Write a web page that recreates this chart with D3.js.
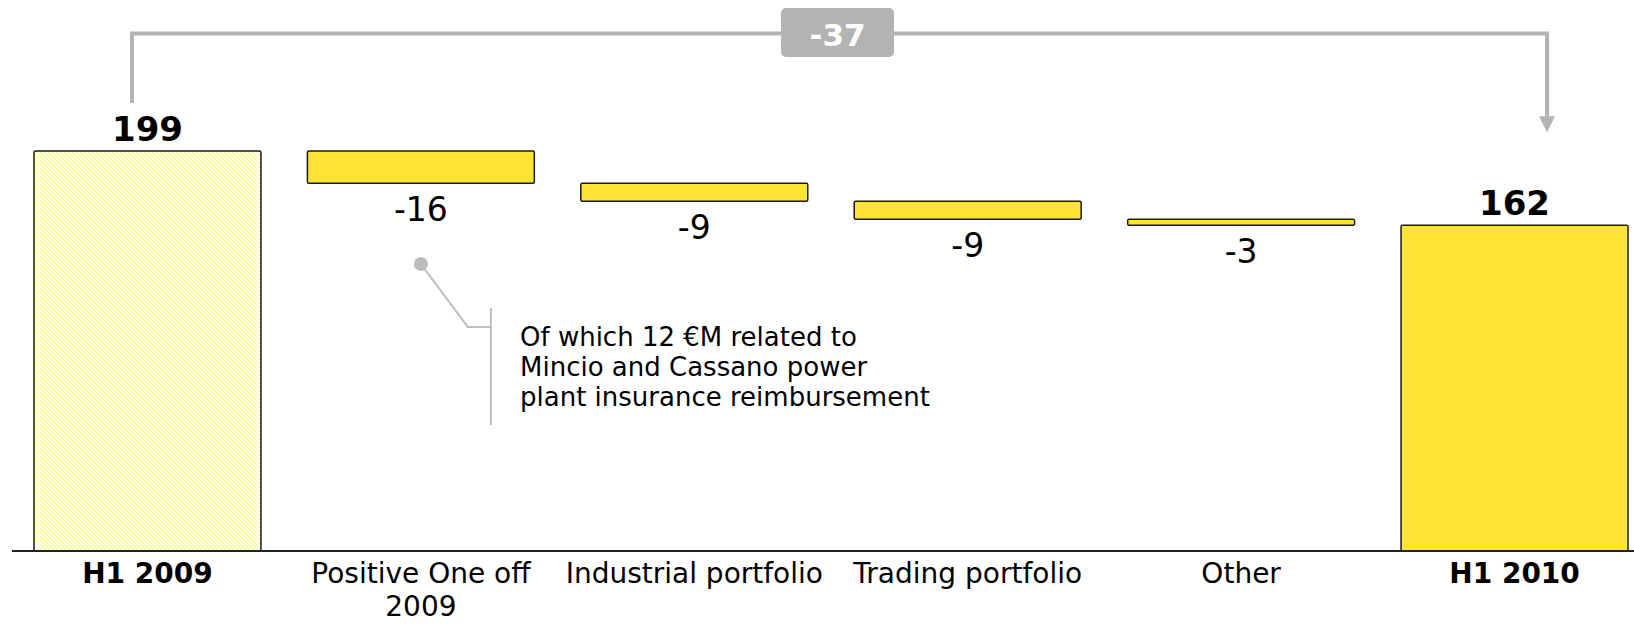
<!DOCTYPE html>
<html>
<head>
<meta charset="utf-8">
<script src="https://cdn.jsdelivr.net/npm/d3@7"></script>
<style>
  body { margin: 0; background: #fff; }
  svg { display: block; font-family: "DejaVu Sans", Verdana, sans-serif; }
</style>
</head>
<body>
<div id="chart"></div>
<script>
// Data
var categories = ["H1 2009", "Positive One off 2009", "Industrial portfolio", "Trading portfolio", "Other", "H1 2010"];
var labelLines = [["H1 2009"], ["Positive One off", "2009"], ["Industrial portfolio"], ["Trading portfolio"], ["Other"], ["H1 2010"]];
var values = [199, -16, -9, -9, -3, 162];
var kinds = ["total", "delta", "delta", "delta", "delta", "total"];
var bridgeValue = -37;
var noteLines = ["Of which 12 €M related to", "Mincio and Cassano power", "plant insurance reimbursement"];

var width = 1634, height = 624;
var yellow = "#ffe433", grey = "#b3b3b3";

var svg = d3.select("#chart").append("svg")
    .attr("width", width)
    .attr("height", height);

// hatch pattern for the first total
var defs = svg.append("defs");
var pat = defs.append("pattern")
    .attr("id", "hatch")
    .attr("patternUnits", "userSpaceOnUse")
    .attr("width", 4).attr("height", 4);
pat.append("rect").attr("width", 4).attr("height", 4).attr("fill", "#fff");
pat.append("path")
    .attr("d", "M-1,-1 L5,5 M-1,3 L1,5 M3,-1 L5,1")
    .attr("stroke", yellow)
    .attr("stroke-opacity", 0.85)
    .attr("stroke-width", 0.7);

// Build waterfall steps
var running = 0;
var steps = categories.map(function(c, i) {
    var v = values[i], start, end;
    if (kinds[i] === "total") { start = 0; end = v; running = v; }
    else { start = running; end = running + v; running = end; }
    return {cat: c, value: v, kind: kinds[i], start: start, end: end, lines: labelLines[i]};
});

// Scales
var x = d3.scaleBand()
    .domain(categories)
    .range([34, 1628])
    .paddingInner(0.17)
    .paddingOuter(0);

var y = d3.scaleLinear()
    .domain([0, 199])
    .range([551, 151]);

// Bars
svg.append("g")
    .selectAll("rect")
    .data(steps)
    .enter().append("rect")
    .attr("x", d => x(d.cat))
    .attr("y", d => y(Math.max(d.start, d.end)))
    .attr("width", x.bandwidth())
    .attr("height", d => Math.abs(y(d.start) - y(d.end)))
    .attr("rx", 1.5)
    .attr("fill", (d, i) => i === 0 ? "url(#hatch)" : yellow)
    .attr("stroke", "#1a1a1a")
    .attr("stroke-width", 1.5);

// Value labels
svg.append("g")
    .selectAll("text")
    .data(steps)
    .enter().append("text")
    .attr("x", d => x(d.cat) + x.bandwidth() / 2)
    .attr("y", d => d.kind === "total" ? y(d.end) - 10 : y(Math.min(d.start, d.end)) + 38)
    .attr("text-anchor", "middle")
    .style("font-size", d => d.kind === "total" ? "34px" : "33px")
    .style("font-weight", d => d.kind === "total" ? "bold" : "normal")
    .attr("fill", "#000")
    .text(d => d.value);

// X axis (labels only), baseline drawn separately
var xAxis = svg.append("g")
    .attr("transform", "translate(0," + y(0) + ")")
    .call(d3.axisBottom(x).tickSize(0).tickSizeOuter(0));
xAxis.select(".domain").remove();
xAxis.selectAll("text")
    .attr("y", 32)
    .attr("dy", 0)
    .attr("fill", "#000")
    .style("font-family", "\"DejaVu Sans\", Verdana, sans-serif")
    .style("font-size", "28px")
    .style("font-weight", (d, i) => kinds[i] === "total" ? "bold" : "normal")
    .each(function(d, i) {
        var t = d3.select(this).text(null);
        labelLines[i].forEach(function(line, j) {
            t.append("tspan").attr("x", 0).attr("dy", j === 0 ? 0 : 33).text(line);
        });
    });

svg.append("line")
    .attr("x1", 12).attr("x2", width)
    .attr("y1", y(0)).attr("y2", y(0))
    .attr("stroke", "#222")
    .attr("stroke-width", 2);

// Bridge bracket with -37
var bx1 = x(categories[0]) + 98,
    bx2 = x(categories[5]) + 146,
    by = 33.5;
svg.append("path")
    .attr("d", "M" + bx1 + "," + (y(199) - 48) + " V" + by + " H" + bx2 + " V" + (y(162) - 108))
    .attr("fill", "none")
    .attr("stroke", grey)
    .attr("stroke-width", 4);
svg.append("path")
    .attr("d", "M" + (bx2 - 8) + "," + (y(162) - 109) + " L" + (bx2 + 8) + "," + (y(162) - 109) + " L" + bx2 + "," + (y(162) - 93) + "Z")
    .attr("fill", grey);

var bmid = (bx1 + bx2) / 2 - 2;
svg.append("rect")
    .attr("x", bmid - 56.5).attr("y", 8)
    .attr("width", 113).attr("height", 49)
    .attr("rx", 5)
    .attr("fill", grey);
svg.append("text")
    .attr("x", bmid).attr("y", 46)
    .attr("text-anchor", "middle")
    .attr("fill", "#fff")
    .style("font-size", "31px")
    .style("font-weight", "bold")
    .text(bridgeValue);

// Callout note on the one-off
var cx = x(categories[1]) + x.bandwidth() / 2;
var note = svg.append("g");
note.append("circle")
    .attr("cx", cx).attr("cy", 264).attr("r", 7)
    .attr("fill", "#bdbdbd");
note.append("polyline")
    .attr("points", cx + ",264 " + (cx + 47) + ",327 " + (cx + 70) + ",327")
    .attr("fill", "none")
    .attr("stroke", "#bdbdbd")
    .attr("stroke-width", 2);
note.append("line")
    .attr("x1", cx + 70).attr("x2", cx + 70)
    .attr("y1", 308).attr("y2", 425)
    .attr("stroke", "#bdbdbd")
    .attr("stroke-width", 2);
note.append("text")
    .attr("x", 520).attr("y", 346)
    .style("font-size", "26px")
    .attr("fill", "#000")
    .selectAll("tspan")
    .data(noteLines)
    .enter().append("tspan")
    .attr("x", 520)
    .attr("dy", (d, i) => i === 0 ? 0 : 30)
    .text(d => d);
</script>
</body>
</html>
